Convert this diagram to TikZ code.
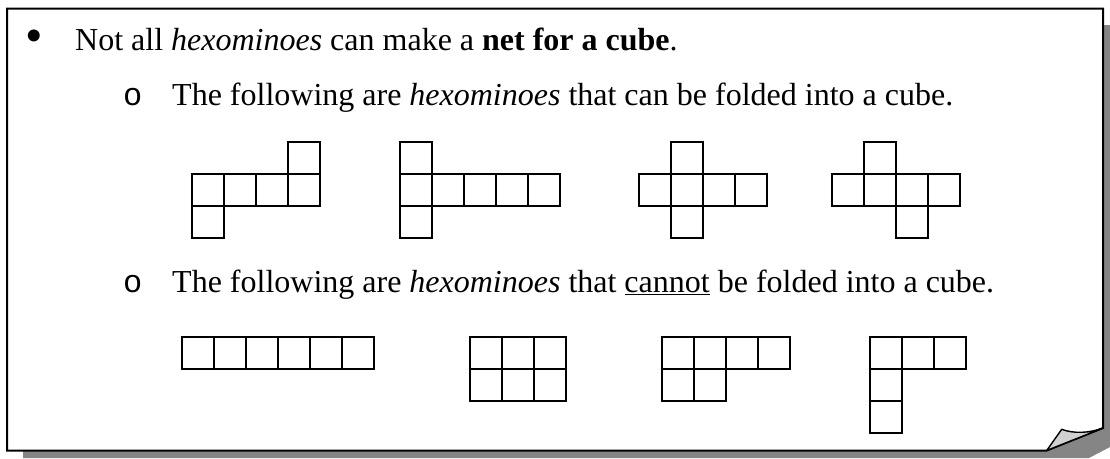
\documentclass[tikz,border=0pt]{standalone}
\usepackage{fontspec}
\setmainfont{Liberation Serif}
\newfontfamily\bulletmono{Liberation Mono}
\begin{document}
\begin{tikzpicture}[x=1pt,y=-1pt,
  sq/.style={line width=2pt, line join=miter},
  frame/.style={line width=2pt, fill=white},
  txt/.style={anchor=base west, inner sep=0pt, font=\fontsize{32}{38}\selectfont}]
\useasboundingbox (0,0) rectangle (1110,458);
% shadow
\fill[black!48] (23,25) -- (1110,25) -- (1110,447) -- (1089,458) -- (23,458) -- cycle;
% page
\draw[frame] (7,8.5) -- (1103,8.5) -- (1103,428) -- (1046.7,450.5) -- (7,450.5) -- cycle;
% curl
\draw[line width=1.4pt, fill=black!18, line join=round] (1046.7,450.5) -- (1061.7,429.3)
  .. controls (1074,434) and (1090,433) .. (1103,428) -- cycle;
% text
\node[anchor=center, inner sep=0pt, font=\fontsize{50}{50}\selectfont] (b1) at (34,41.5) {•};
\node[txt] (t1) at (75,50) {Not all \textit{hexominoes} can make a \textbf{net for a cube}.};
\node[txt] (b2) at (123,105) {\bulletmono o};
\node[txt] (t2) at (172,105) {The following are \textit{hexominoes} that can be folded into a cube.};
\node[txt] (b3) at (123,292) {\bulletmono o};
\node[txt] (t3) at (172,292) {The following are \textit{hexominoes} that \underline{cannot} be folded into a cube.};
% hexominoes
\def\c{32}
\foreach \ox/\oy/\cells in {
  191.7/141.7/{3/0,0/1,1/1,2/1,3/1,0/2},
  400/141.7/{0/0,0/1,1/1,2/1,3/1,4/1,0/2},
  639.3/141.7/{1/0,0/1,1/1,2/1,3/1,1/2},
  831.7/141.7/{1/0,0/1,1/1,2/1,3/1,2/2},
  181.7/336.7/{0/0,1/0,2/0,3/0,4/0,5/0},
  470/336.7/{0/0,1/0,2/0,0/1,1/1,2/1},
  661.7/336.7/{0/0,1/0,2/0,3/0,0/1,1/1},
  870/336.7/{0/0,1/0,2/0,0/1,0/2}}{
  \foreach \i/\j in \cells {
    \draw[sq] (\ox+\i*\c,\oy+\j*\c) rectangle ++(\c,\c);
  }
}
\end{tikzpicture}
\end{document}
